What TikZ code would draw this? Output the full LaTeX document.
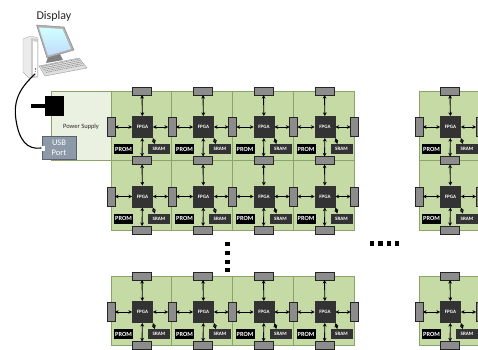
\documentclass[tikz,border=0pt]{standalone}
\usepackage{fontspec}
\setmainfont{Carlito}
\usetikzlibrary{arrows.meta}
\definecolor{cellg}{HTML}{C6DAA6}
\definecolor{cellb}{HTML}{8AA368}
\definecolor{psfill}{HTML}{EBF1E1}
\definecolor{chip}{HTML}{333333}
\definecolor{conn}{HTML}{8C8C8C}
\definecolor{usbf}{HTML}{8B99A8}
\tikzset{
 cellbox/.style={draw=cellb,fill=cellg,line width=0.8pt,minimum width=61pt,minimum height=69.5pt,inner sep=0pt,outer sep=0pt},
 hbar/.style={draw=black!85,fill=conn,line width=0.9pt,minimum width=19pt,minimum height=8pt,inner sep=0pt,outer sep=0pt},
 vbar/.style={draw=black!85,fill=conn,line width=0.9pt,minimum width=8pt,minimum height=19pt,inner sep=0pt,outer sep=0pt},
 fpga/.style={fill=chip,text=white,font=\bfseries\fontsize{5}{5}\selectfont,minimum width=21pt,minimum height=22pt,inner sep=0pt,outer sep=0pt},
 sram/.style={fill=chip,text=white,font=\bfseries\fontsize{5}{5}\selectfont,minimum width=22pt,minimum height=10pt,inner sep=0pt,outer sep=0pt},
 prom/.style={fill=black,text=white,font=\bfseries\fontsize{6.3}{6.3}\selectfont,minimum width=19pt,minimum height=10pt,inner sep=0pt,outer sep=0pt},
 link/.style={{Stealth[length=3.6pt,width=3.8pt]}-{Stealth[length=3.6pt,width=3.8pt]},line width=0.9pt,black},
 dot/.style={fill=black,minimum size=4.2pt,inner sep=0pt,outer sep=0pt},
}
\begin{document}
\begin{tikzpicture}[x=1pt,y=-1pt]
\useasboundingbox (0,0) rectangle (478,349);
\clip (0,0) rectangle (478,349);
% power supply panel
\node[draw=cellb,fill=psfill,line width=0.8pt,minimum width=60pt,minimum height=69.5pt,inner sep=0pt,outer sep=0pt] (panel) at (81,125.75) {};
% cells
\foreach \cn/\xl/\xr in {1/111/172,2/172/232.5,3/232.5/293.5,4/293.5/354.5,6/419/480}{
 \foreach \rn/\yt/\yb in {1/91/160.5,2/160.5/230,3/276/345.5}{
  \node[cellbox] (cell\rn\cn) at ({(\xl+\xr)/2},{(\yt+\yb)/2}) {};
 }
}
% horizontal and vertical connector blocks
\foreach \cn/\xl/\xr in {1/111/172,2/172/232.5,3/232.5/293.5,4/293.5/354.5,6/419/480}{
 \foreach \ln/\yy in {a/91,b/160.5,c/230,d/276,e/345.5}{
  \node[hbar] (h\ln\cn) at ({\xl+31},\yy) {};
 }
}
\foreach \ln/\xx in {1/111,2/172,3/232.5,4/293.5,5/354.5,6/419,7/480}{
 \foreach \rn/\yt in {1/91,2/160.5,3/276}{
  \node[vbar] (v\rn\ln) at (\xx,{\yt+36}) {};
 }
}
% chips and links
\foreach \cn/\xl/\nx in {1/111/2,2/172/3,3/232.5/4,4/293.5/5,6/419/7}{
 \foreach \rn/\yt/\ta/\ba in {1/91/a/b,2/160.5/b/c,3/276/d/e}{
  \node[fpga] (f\rn\cn) at ({\xl+31.5},{\yt+36}) {FPGA};
  \node[prom] (p\rn\cn) at ({\xl+12.5},{\yt+58}) {PROM};
  \node[sram] (s\rn\cn) at ({\xl+48},{\yt+58}) {SRAM};
  \draw[link] (f\rn\cn) -- (h\ta\cn);
  \draw[link] (f\rn\cn) -- (h\ba\cn);
  \draw[link] (f\rn\cn) -- (v\rn\cn);
  \draw[link] (f\rn\cn) -- (v\rn\nx);
  \draw[link] (f\rn\cn.south east) -- (s\rn\cn.130);
 }
}
% computer
\fill[black!8,draw=black!30,line width=0.4pt] (23,39) -- (31,36) -- (38,38) -- (38,77) -- (29,78) -- (23,72) -- cycle;
\fill[black!20] (31,38) -- (38,39) -- (38,77) -- (31,77.5) -- cycle;
\fill[white] (33,41) -- (37,42) -- (37,76) -- (33,76) -- cycle;
\fill[blue!60] (34.5,68) rectangle (36,69.5);
\fill[red!60] (34.5,71) rectangle (36,72);
\fill[black!50] (48,57) -- (60,54) -- (63,60) -- (46,63) -- cycle;
\fill[black!30,draw=black!50,line width=0.4pt] (36.5,25) -- (64,27) -- (74,50) -- (47,58) -- cycle;
\shade[top color=cyan!18,bottom color=cyan!45!blue!25] (39,27.5) -- (62.5,29) -- (71,49) -- (48,55.5) -- cycle;
\fill[black!12,draw=black!40,line width=0.4pt] (39,66) -- (79,58) -- (87,68) -- (45,76) -- cycle;
\foreach \t in {0,0.2,0.4,0.6,0.8}{
 \draw[black!45,line width=0.6pt,dash pattern=on 1.6pt off 0.7pt]
  ({41+\t*6},{66.5+\t*7.5}) -- ({79+\t*6},{59+\t*7.5});
}
% power brick
\node[fill=black,minimum width=19pt,minimum height=20pt,inner sep=0pt,outer sep=0pt] (brick) at (54.5,106) {};
\node[fill=black,minimum width=14pt,minimum height=4.5pt,inner sep=0pt,outer sep=0pt,anchor=east] (plug) at (brick.west) {};
% USB
\node[draw=black!35!usbf,fill=usbf,text=white,line width=0.9pt,minimum width=34pt,minimum height=23pt,inner sep=0pt,outer sep=0pt,align=center,font=\fontsize{8.5}{10}\selectfont] (usb) at (59,147.5) {USB\\Port};
\node[fill=white,minimum width=4pt,minimum height=5pt,inner sep=0pt,outer sep=0pt] (notch) at (43,148) {};
\coordinate (pcport) at (35,74);
\draw[line width=1.1pt,black,line cap=round] (pcport) .. controls (20,88) and (13,100) .. (16,120) .. controls (19,140) and (27,150) .. (notch.west);
% labels
\node[inner sep=0pt,font=\fontsize{12}{14}\selectfont,text=black!85] (disp) at (54,16) {Display};
\node[inner sep=0pt,font=\fontsize{6.5}{8}\selectfont,text=black!85] (pslabel) at (81,127) {Power Supply};
% ellipsis dots
\foreach \i/\yy in {1/244,2/253,3/262,4/270}{
 \node[dot] (vd\i) at (227.5,\yy) {};
}
\foreach \i/\xx in {1/372,2/380.5,3/389,4/397}{
 \node[dot] (hd\i) at (\xx,243.5) {};
}
\end{tikzpicture}
\end{document}
